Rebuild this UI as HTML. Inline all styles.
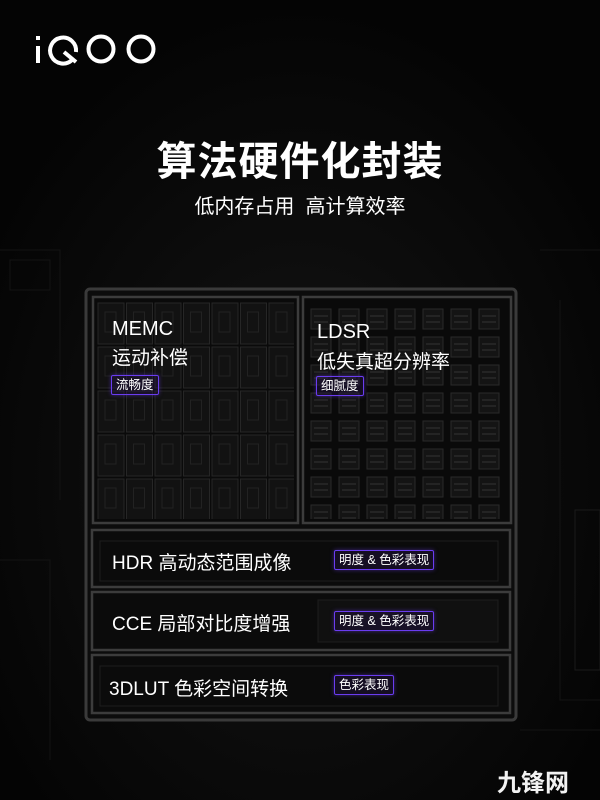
<!DOCTYPE html>
<html><head><meta charset="utf-8"><style>
html,body{margin:0;padding:0;background:#050505;}
body{width:600px;height:800px;position:relative;overflow:hidden;font-family:"Liberation Sans","Noto Sans CJK SC",sans-serif;color:#fff;}
.t{position:absolute;white-space:nowrap;}
.tag{position:absolute;border:1.5px solid #6a3cf0;border-radius:2px;font-size:12.5px;line-height:16px;padding:1px 4px;color:#fff;background:rgba(40,20,80,.35);box-shadow:0 0 4px rgba(110,60,240,.5);}
</style></head><body>
<svg width="600" height="800" style="position:absolute;left:0;top:0">
<defs>
<radialGradient id="bg" cx="50%" cy="60%" r="60%"><stop offset="0" stop-color="#151515"/><stop offset="1" stop-color="#040404"/></radialGradient>
<pattern id="pl" x="97" y="302" width="28.5" height="44" patternUnits="userSpaceOnUse">
<rect x="1" y="1" width="26" height="41" fill="#121212" stroke="#262626"/><rect x="8" y="10" width="11" height="20" fill="none" stroke="#222"/></pattern>
<pattern id="pr" x="308" y="305" width="28" height="28" patternUnits="userSpaceOnUse">
<rect x="3" y="4" width="20" height="20" fill="#141414" stroke="#2a2a2a"/><line x1="6" y1="11" x2="20" y2="11" stroke="#333"/><line x1="6" y1="17" x2="20" y2="17" stroke="#333"/></pattern>
</defs>
<rect width="600" height="800" fill="url(#bg)"/>
<g stroke="#131313" fill="none"><path d="M0 250 H60 V500 M540 250 H600 M560 300 V700 H600 M0 560 H50 V760 M520 730 H600"/><rect x="10" y="260" width="40" height="30"/><rect x="575" y="510" width="25" height="160" stroke="#1a1a1a"/></g>
<rect x="86" y="289" width="430" height="431" rx="4" fill="#0c0c0c" stroke="#3a3a3a" stroke-width="3"/>
<rect x="93" y="297" width="205" height="226" fill="#0a0a0a" stroke="#3c3c3c" stroke-width="2.5"/>
<rect x="97" y="302" width="197" height="217" fill="url(#pl)"/>
<rect x="303" y="297" width="208" height="226" fill="#0a0a0a" stroke="#3c3c3c" stroke-width="2.5"/>
<rect x="306" y="302" width="200" height="217" fill="url(#pr)"/>
<rect x="92" y="530" width="418" height="57" fill="#0b0b0b" stroke="#3c3c3c" stroke-width="2.5"/>
<rect x="100" y="541" width="398" height="40" fill="none" stroke="#1e1e1e"/>
<rect x="92" y="592" width="418" height="58" fill="#0b0b0b" stroke="#3c3c3c" stroke-width="2.5"/>
<rect x="318" y="600" width="180" height="42" fill="#101010" stroke="#1e1e1e"/>
<rect x="92" y="655" width="418" height="58" fill="#0b0b0b" stroke="#3c3c3c" stroke-width="2.5"/>
<rect x="100" y="666" width="398" height="40" fill="none" stroke="#1e1e1e"/>
<g stroke="#fff" stroke-width="4" fill="none">
<line x1="38" y1="46" x2="38" y2="63"/>
<path d="M72 60 A13 13 0 1 1 76 52" /><line x1="64" y1="52" x2="76" y2="62"/>
<circle cx="101" cy="49" r="12.5"/><circle cx="141" cy="49" r="12.5"/>
</g>
<rect x="36" y="36" width="4" height="4" fill="#fff"/>
</svg>
<div class="t" style="left:0;width:600px;text-align:center;top:129px;font-size:40px;font-weight:bold;letter-spacing:1px;">算法硬件化封装</div>
<div class="t" style="left:0;width:600px;text-align:center;top:190px;font-size:20px;">低内存占用&nbsp;&nbsp;高计算效率</div>
<div class="t" style="left:112px;top:318px;font-size:20px;">MEMC</div>
<div class="t" style="left:112px;top:343px;font-size:19px;">运动补偿</div>
<div class="tag" style="left:111px;top:375px;">流畅度</div>
<div class="t" style="left:317px;top:321px;font-size:20px;">LDSR</div>
<div class="t" style="left:317px;top:347px;font-size:19px;">低失真超分辨率</div>
<div class="tag" style="left:316px;top:376px;">细腻度</div>
<div class="t" style="left:112px;top:548px;font-size:19px;">HDR 高动态范围成像</div>
<div class="tag" style="left:334px;top:550px;">明度 &amp; 色彩表现</div>
<div class="t" style="left:112px;top:609px;font-size:19px;">CCE 局部对比度增强</div>
<div class="tag" style="left:334px;top:611px;">明度 &amp; 色彩表现</div>
<div class="t" style="left:109px;top:674px;font-size:19px;">3DLUT 色彩空间转换</div>
<div class="tag" style="left:334px;top:675px;">色彩表现</div>
<div class="t" style="left:497px;top:763px;font-size:24px;font-weight:bold;color:#f2f2f2;">九锋网</div>
</body></html>
